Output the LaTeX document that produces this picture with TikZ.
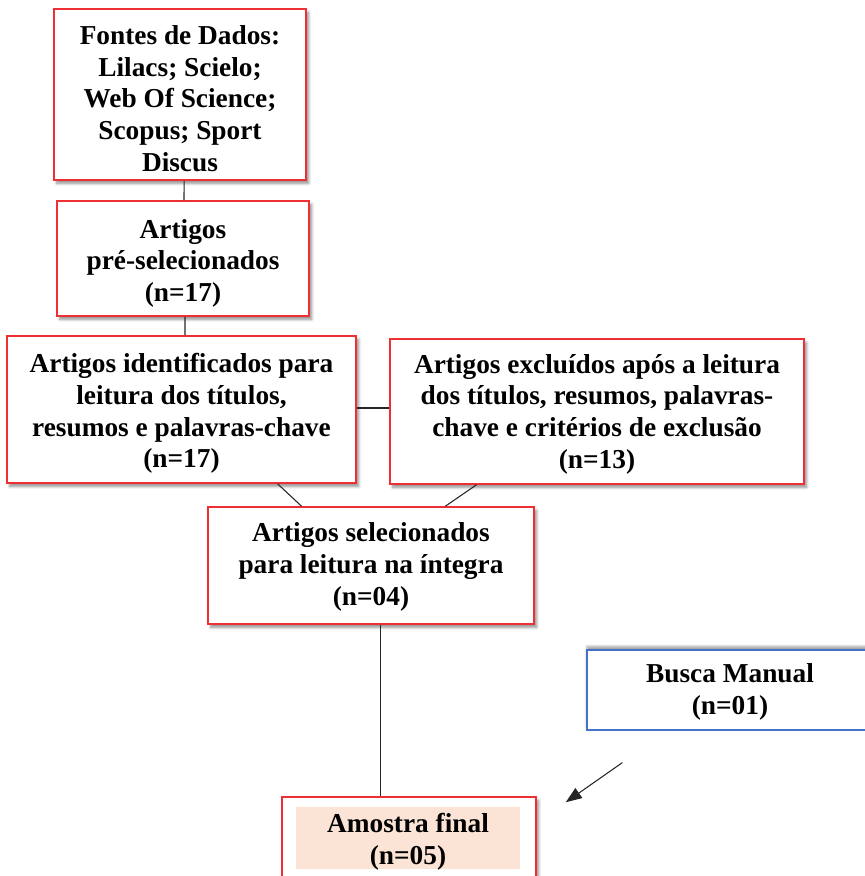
\documentclass[tikz,border=0pt]{standalone}
\usepackage{fontspec}
\setmainfont{Liberation Serif}
\usetikzlibrary{shadows.blur,calc,arrows.meta}
\definecolor{boxred}{RGB}{238,48,52}
\definecolor{boxblue}{RGB}{68,114,196}
\definecolor{peach}{RGB}{251,228,214}
\tikzset{
  shd/.style={blur shadow={shadow xshift=2pt,shadow yshift=-2.5pt,shadow opacity=45,shadow blur steps=6,shadow blur radius=2pt}},
  redbox/.style={draw=boxred,line width=1.2pt,fill=white,inner sep=0pt,shd},
  bluebox/.style={draw=boxblue,line width=0.9pt,fill=white,inner sep=0pt,
     blur shadow={shadow xshift=0pt,shadow yshift=2.5pt,shadow opacity=40,shadow blur steps=6,shadow blur radius=2pt}},
  txt/.style={inner sep=0pt,align=center,font=\fontsize{20.5}{23.7}\selectfont\bfseries},
  conn/.style={draw=black!85,line width=0.8pt}
}
\begin{document}
\begin{tikzpicture}[x=0.75pt,y=-0.75pt]
\useasboundingbox (0,0) rectangle (865,876);
\node[redbox,minimum width=189pt,minimum height=128.25pt] (f) at (180,94.5) {};
\node[txt] (ft) at ([yshift=-3pt]f.center)
  {Fontes de Dados:\\Lilacs; Scielo;\\Web Of Science;\\Scopus; Sport\\Discus};
\node[redbox,minimum width=189pt,minimum height=86.25pt] (p) at (183,258.5) {};
\node[txt] (pt) at ([yshift=-3.5pt]p.center) {Artigos\\pré-selecionados\\(n=17)};
\node[redbox,minimum width=261.75pt,minimum height=110.25pt] (i) at (181.5,409.5) {};
\node[txt] (it) at ([yshift=-3pt]i.center)
  {Artigos identificados para\\leitura dos títulos,\\resumos e palavras-chave\\(n=17)};
\node[redbox,minimum width=310.5pt,minimum height=108.75pt] (e) at (597,411.5) {};
\node[txt] (et) at ([yshift=-2pt]e.center)
  {Artigos excluídos após a leitura\\dos títulos, resumos, palavras-\\chave e critérios de exclusão\\(n=13)};
\node[redbox,minimum width=244.5pt,minimum height=87.75pt] (s) at (371,565.5) {};
\node[txt] (st) at ([yshift=-1pt]s.center) {Artigos selecionados\\para leitura na íntegra\\(n=04)};
\node[bluebox,minimum width=214.5pt,minimum height=60pt] (b) at (730,690) {};
\node[txt] (bt) at ([yshift=-1.5pt]b.center) {Busca Manual\\(n=01)};
\node[redbox,minimum width=190.5pt,minimum height=66pt] (a) at (409,841) {};
\node[fill=peach,inner sep=0pt,minimum width=168pt,minimum height=46.5pt] (ap) at (408,837.5) {};
\node[txt] (at) at ([yshift=-3pt]ap.center) {Amostra final\\(n=05)};
% connectors
\draw[conn] ($(f.south west)!0.516!(f.south east)$) -- ($(p.north west)!0.504!(p.north east)$);
\draw[conn] ($(p.south west)!0.508!(p.south east)$) -- ($(i.north west)!0.51!(i.north east)$);
\coordinate (h1) at ($(i.north east)!0.49!(i.south east)$);
\draw[conn] (h1) -- (h1 -| e.west);
\draw[conn] ($(i.south west)!0.774!(i.south east)$) -- ($(s.north west)!0.288!(s.north east)$);
\draw[conn] ($(e.south west)!0.21!(e.south east)$) -- ($(s.north west)!0.727!(s.north east)$);
\coordinate (x5) at ($(s.south west)!0.53!(s.south east)$);
\draw[conn] (x5) -- (x5 |- a.north);
\coordinate (arrS) at ($(b.south west)+(36,32)$);
\coordinate (arrE) at ($(a.north east)+(29,6)$);
\draw[conn,-{Triangle[length=12pt,width=9pt]}] (arrS) -- (arrE);
\end{tikzpicture}
\end{document}
